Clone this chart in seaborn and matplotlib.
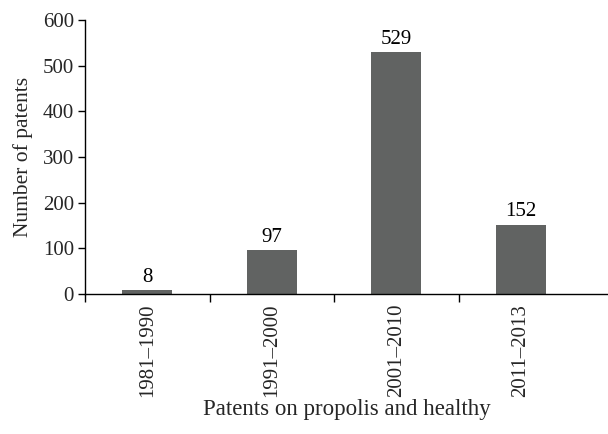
import matplotlib
matplotlib.use("Agg")
import matplotlib.pyplot as plt
import seaborn as sns
import pandas as pd

periods = ["1981\u20131990", "1991\u20132000", "2001\u20132010", "2011\u20132013"]
patents = [8, 97, 529, 152]
y_ticks = [0, 100, 200, 300, 400, 500, 600]

sns.set_style("ticks")
plt.rcParams["font.family"] = ["Liberation Serif", "DejaVu Serif"]

df = pd.DataFrame({"period": periods, "patents": patents})

fig = plt.figure(figsize=(6.08, 4.34), dpi=100)
ax = fig.add_axes([85 / 608, 1 - 294 / 434, 1 - 85 / 608, (294 - 20) / 434])

sns.barplot(data=df, x="period", y="patents", color="#616362", width=0.4,
            saturation=1, ax=ax, edgecolor="none")

for i, v in enumerate(patents):
    ax.text(i, v + 7, str(v), ha="center", va="bottom", fontsize=15, color="black")

ax.set_ylim(0, 600)
ax.set_yticks(y_ticks)
ax.set_xlim(-0.5, 3.7)
# Separator ticks between the period groups
ax.set_xticks([-0.5, 0.5, 1.5, 2.5])
ax.set_xticklabels([])
ax.tick_params(axis="x", which="major", length=6, width=1, color="black")
ax.set_xticks(range(len(periods)), minor=True)
ax.set_xticklabels(periods, minor=True, rotation=90, fontsize=15)
ax.tick_params(axis="x", which="minor", length=0, pad=7)
ax.tick_params(axis="y", length=5, width=1, color="black", labelsize=15, pad=3)

for s in ("top", "right"):
    ax.spines[s].set_visible(False)
for s in ("left", "bottom"):
    ax.spines[s].set_linewidth(1)
    ax.spines[s].set_color("black")

ax.set_xlabel("Patents on propolis and healthy", fontsize=16.5, labelpad=1)
ax.set_ylabel("Number of patents", fontsize=15.5, labelpad=7)

fig.savefig("out.png", dpi=100)
